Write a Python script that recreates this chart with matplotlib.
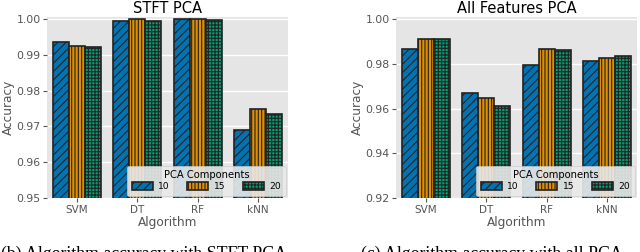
import matplotlib
matplotlib.use("Agg")
import matplotlib.pyplot as plt
import numpy as np

algorithms = ["SVM", "DT", "RF", "kNN"]
components = ["10", "15", "20"]

stft_10 = [0.9937, 0.9996, 1.0000, 0.9689]
stft_15 = [0.9924, 1.0000, 1.0000, 0.9748]
stft_20 = [0.9921, 0.9996, 0.9999, 0.9736]

all_10 = [0.9869, 0.9672, 0.9797, 0.9815]
all_15 = [0.9910, 0.9646, 0.9866, 0.9828]
all_20 = [0.9911, 0.9612, 0.9861, 0.9837]

stft_ticks = [0.95, 0.96, 0.97, 0.98, 0.99, 1.00]
all_ticks = [0.92, 0.94, 0.96, 0.98, 1.00]

colors = ["#0173B2", "#DE8F05", "#029E73"]
hatches = ["////", "|||||", "+++++"]

plt.style.use("ggplot")
plt.rcParams["hatch.linewidth"] = 0.8
plt.rcParams["hatch.color"] = "black"
plt.rcParams["font.family"] = ["DejaVu Sans"]

fig = plt.figure(figsize=(6.4, 2.52), dpi=100)
axL = fig.add_axes([47/640, 54/252, 241/640, 181/252])
axR = fig.add_axes([396/640, 54/252, 241/640, 181/252])

def draw(ax, series, ticks, title, ylim):
    x = np.arange(len(algorithms))
    w = 0.8 / 3
    for i, vals in enumerate(series):
        ax.bar(x + (i - 1) * w, vals, width=w, color=colors[i], hatch=hatches[i],
               edgecolor="#222222", linewidth=1.2, label=components[i], zorder=2)
    ax.set_xlim(-0.5, len(algorithms) - 0.5)
    ax.set_ylim(*ylim)
    ax.set_yticks(ticks)
    ax.set_yticklabels([f"{t:.2f}" for t in ticks])
    ax.set_xticks(x)
    ax.set_xticklabels(algorithms)
    ax.grid(axis="x", visible=False)
    ax.grid(axis="y", color="white", linewidth=1.0)
    ax.set_axisbelow(True)
    ax.tick_params(axis="y", labelsize=7.8, colors="#555555", length=3, pad=1.5)
    ax.tick_params(axis="x", labelsize=7.5, colors="#555555", length=3, pad=2)
    ax.set_xlabel("Algorithm", fontsize=8.7, color="#555555", labelpad=1)
    ax.set_ylabel("Accuracy", fontsize=8.7, color="#555555", labelpad=1)
    ax.set_title(title, fontsize=10.5, color="black", pad=3)
    for s in ax.spines.values():
        s.set_visible(False)
    leg = ax.legend(title="PCA Components", ncol=3, loc="lower right", fontsize=6.6,
                    title_fontsize=7.2, handlelength=2.3, handleheight=0.9,
                    columnspacing=1.9, handletextpad=0.6, borderaxespad=0.25,
                    borderpad=0.5, labelspacing=0.2, frameon=True)
    leg.get_frame().set_facecolor("#EAEAEA")
    leg.get_frame().set_edgecolor("#CCCCCC")
    leg.get_frame().set_alpha(0.9)

draw(axL, [stft_10, stft_15, stft_20], stft_ticks, "STFT PCA", (0.95, 1.0006))
draw(axR, [all_10, all_15, all_20], all_ticks, "All Features PCA", (0.92, 1.001))

fig.text(144/640, 1 - 246/252, "(b) Algorithm accuracy with STFT PCA",
         family="Liberation Serif", fontsize=12.8, ha="center", va="top", color="black")
fig.text(492/640, 1 - 246/252, "(c) Algorithm accuracy with all PCA",
         family="Liberation Serif", fontsize=12.8, ha="center", va="top", color="black")

fig.savefig("out.png", dpi=100)
